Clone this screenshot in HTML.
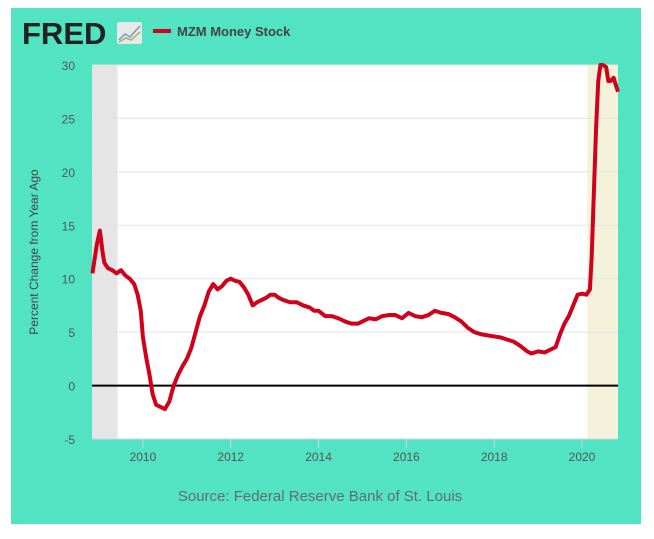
<!DOCTYPE html>
<html><head><meta charset="utf-8"><style>
body{margin:0;background:#fff;width:654px;height:534px;overflow:hidden;font-family:"Liberation Sans",sans-serif}
</style></head><body>
<svg width="654" height="534" xmlns="http://www.w3.org/2000/svg">
<rect x="11" y="8" width="630" height="516" fill="#52e3c2"/>
<g id="plot"></g>
<text x="22" y="44" font-size="31" font-weight="bold" fill="#222" letter-spacing="0">FRED</text>
<g><rect x="117" y="22" width="25" height="22" fill="#e8e8e8" rx="2"/><polyline points="119,40 125,34 130,37 140,26" fill="none" stroke="#7a9abf" stroke-width="1.5"/><polyline points="119,42 126,38 131,40 140,32" fill="none" stroke="#9bb26a" stroke-width="1.5"/></g>
<rect x="153" y="29" width="18" height="4" fill="#d0021b"/>
<text x="177" y="36" font-size="13" font-weight="bold" fill="#444">MZM Money Stock</text>
<text transform="translate(38,252) rotate(-90)" text-anchor="middle" font-size="12" fill="#444">Percent Change from Year Ago</text>
<text x="320" y="501" text-anchor="middle" font-size="15" fill="#5f6f6a">Source: Federal Reserve Bank of St. Louis</text>
</svg>
<script>
const yTicks=[-5,0,5,10,15,20,25,30];
const xTicks=[2010,2012,2014,2016,2018,2020];
const recessions=[[2008.84,2009.42],[2020.12,2020.82]];
const dates=[2008.85,2008.95,2009.02,2009.08,2009.12,2009.2,2009.3,2009.4,2009.5,2009.6,2009.7,2009.8,2009.88,2009.95,2010.0,2010.08,2010.15,2010.22,2010.3,2010.4,2010.5,2010.6,2010.7,2010.8,2010.9,2011.0,2011.1,2011.2,2011.3,2011.4,2011.5,2011.6,2011.7,2011.8,2011.9,2012.0,2012.1,2012.2,2012.3,2012.4,2012.5,2012.6,2012.7,2012.8,2012.9,2013.0,2013.1,2013.2,2013.35,2013.5,2013.65,2013.8,2013.9,2014.0,2014.15,2014.3,2014.45,2014.6,2014.75,2014.9,2015.0,2015.15,2015.3,2015.45,2015.6,2015.75,2015.9,2016.05,2016.2,2016.35,2016.5,2016.65,2016.8,2016.95,2017.1,2017.25,2017.4,2017.55,2017.7,2017.85,2018.0,2018.15,2018.3,2018.45,2018.6,2018.75,2018.85,2019.0,2019.15,2019.3,2019.4,2019.5,2019.6,2019.7,2019.8,2019.9,2020.0,2020.1,2020.18,2020.22,2020.27,2020.32,2020.37,2020.42,2020.48,2020.55,2020.6,2020.65,2020.72,2020.78,2020.82];
const values=[10.5,13.2,14.5,12.5,11.5,11,10.8,10.5,10.8,10.3,10,9.5,8.5,7,4.5,2.5,1,-0.8,-1.8,-2,-2.2,-1.5,0,1,1.8,2.5,3.5,5,6.5,7.5,8.8,9.5,9,9.3,9.8,10,9.8,9.7,9.2,8.5,7.5,7.8,8,8.2,8.5,8.5,8.2,8,7.8,7.8,7.5,7.3,7,7,6.5,6.5,6.3,6,5.8,5.8,6,6.3,6.2,6.5,6.6,6.6,6.3,6.8,6.5,6.4,6.6,7,6.8,6.7,6.4,6,5.4,5,4.8,4.7,4.6,4.5,4.3,4.1,3.7,3.2,3,3.2,3.1,3.4,3.6,4.8,5.8,6.5,7.5,8.5,8.6,8.5,9,12,18,24,28.5,30,30,29.8,28.5,28.5,28.8,28,27.5];
const X0=92,X1=618,Y0=65,Y1=439,xmin=2008.84,xmax=2020.82,ymin=-5,ymax=30;
const xs=d=>X0+(d-xmin)/(xmax-xmin)*(X1-X0);
const ys=v=>Y1-(v-ymin)/(ymax-ymin)*(Y1-Y0);
const NS="http://www.w3.org/2000/svg",g=document.getElementById('plot');
function mk(t,a){const e=document.createElementNS(NS,t);for(const k in a)e.setAttribute(k,a[k]);g.appendChild(e);return e;}
let e=mk('rect',{x:X0,y:Y0,width:X1-X0,height:Y1-Y0,fill:'#fff'});


recessions.forEach((r,i)=>{const el=mk('rect',{x:xs(r[0]),y:Y0,width:xs(r[1])-xs(r[0]),height:Y1-Y0,fill:i==0?'#e5e5e5':'#f5f2dc'});

});
yTicks.forEach(t=>{if(t!==0&&t!==ymin){const l=mk('line',{x1:X0,x2:X1,y1:ys(t),y2:ys(t),stroke:'#e4e4e4','stroke-width':1});

}
const tx=mk('text',{x:75,y:ys(t)+5,'text-anchor':'end','font-size':12,fill:'#555'});tx.textContent=t;

});
const base=mk('line',{x1:X0,x2:X1,y1:Y1,y2:Y1,stroke:'#ccd6eb','stroke-width':1});


xTicks.forEach(t=>{const tk=mk('line',{x1:xs(t),x2:xs(t),y1:Y1,y2:Y1+9,stroke:'#ccd6eb'});


const tx=mk('text',{x:xs(t),y:Y1+22,'text-anchor':'middle','font-size':12,fill:'#555'});tx.textContent=t;

});
const z=mk('line',{x1:X0,x2:X1,y1:ys(0),y2:ys(0),stroke:'#000','stroke-width':2});


const p=mk('polyline',{points:dates.map((d,i)=>xs(d)+','+ys(values[i])).join(' '),fill:'none',stroke:'#d0021b','stroke-width':4,'stroke-linejoin':'round'});


</script>
</body></html>
